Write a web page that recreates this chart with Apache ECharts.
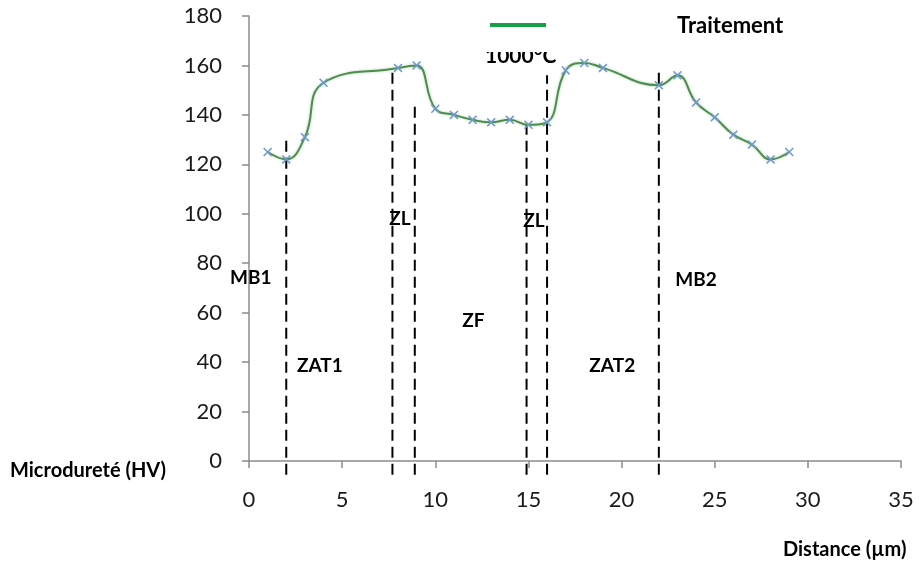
<!DOCTYPE html>
<html><head><meta charset="utf-8">
<script src="https://cdn.jsdelivr.net/npm/echarts@6/dist/echarts.min.js"></script>
<style>html,body{margin:0;padding:0;background:#fff}#c{width:919px;height:573px}</style>
</head><body><div id="c"></div>
<script>
// Data
var distance = [1, 2, 3, 4, 8, 9, 10, 11, 12, 13, 14, 15, 16, 17, 18, 19, 22, 23, 24, 25, 26, 27, 28, 29];
var hardness = [125, 122, 131, 153, 159, 160, 142.5, 140, 138, 137, 138, 136, 137, 158, 161, 159, 152, 156, 145, 139, 132, 128, 122, 125];
var xTicks = [0, 5, 10, 15, 20, 25, 30, 35];
var yTicks = [0, 20, 40, 60, 80, 100, 120, 140, 160, 180];
// zone boundaries (x) and the height each dashed line reaches
var boundaryX = [2, 7.7, 8.9, 14.9, 16, 22];
var boundaryTop = [129.5, 159, 143.5, 136, 156, 158];
var boundaryBottom = -5.6;
// zone labels and where they sit (data coords)
var zoneNames = ['MB1', 'ZAT1', 'ZL', 'ZF', 'ZL', 'ZAT2', 'MB2'];
var zoneX = [0.1, 3.8, 8.1, 12.05, 15.3, 19.5, 24.0];
var zoneY = [74, 38.3, 98, 56.5, 97, 38.3, 73.4];

var chart = echarts.init(document.getElementById('c'));
var xPath = 'path://M0,1.2 L1.2,0 L5,3.8 L8.8,0 L10,1.2 L6.2,5 L10,8.8 L8.8,10 L5,6.2 L1.2,10 L0,8.8 L3.8,5 Z';
var font = 'Lato, "Open Sans", sans-serif';

var series = [{
  type: 'line',
  data: distance.map(function (d, i) { return [d, hardness[i]]; }),
  smooth: 0.45,
  symbol: xPath,
  symbolSize: 9,
  itemStyle: { color: '#6f98cf' },
  lineStyle: { color: '#4d8e4d', width: 2, shadowColor: 'rgba(90,150,90,0.45)', shadowBlur: 3 },
  z: 5
}];
boundaryX.forEach(function (x, i) {
  series.push({
    type: 'line',
    data: [[x, boundaryBottom], [x, boundaryTop[i]]],
    symbol: 'none',
    clip: false,
    silent: true,
    lineStyle: { color: '#000', width: 2, type: [11, 6] },
    z: 3
  });
});
series.push({
  type: 'scatter',
  data: zoneNames.map(function (n, i) { return { value: [zoneX[i], zoneY[i]], name: n }; }),
  symbolSize: 0,
  silent: true,
  z: 6,
  itemStyle: { opacity: 1 },
  label: {
    show: true, position: 'inside', formatter: '{b}',
    color: '#000', fontWeight: 'bold', fontSize: 19, fontFamily: font,
    textBorderWidth: 0
  }
});

chart.setOption({
  animation: false,
  backgroundColor: '#fff',
  grid: { left: 249, right: 18, top: 16, bottom: 112 },
  xAxis: {
    type: 'value', min: 0, max: 35, interval: 5,
    axisLine: { show: true, lineStyle: { color: '#8c8c8c', width: 1.5 } },
    axisTick: { show: true, length: 7, lineStyle: { color: '#8c8c8c', width: 1.5 } },
    axisLabel: { margin: 28, color: '#1a1a1a', fontSize: 22, fontFamily: font },
    splitLine: { show: false }
  },
  yAxis: {
    type: 'value', min: 0, max: 180, interval: 20,
    axisLine: { show: true, lineStyle: { color: '#8c8c8c', width: 1.5 } },
    axisTick: { show: true, length: 7, lineStyle: { color: '#8c8c8c', width: 1.5 } },
    axisLabel: { margin: 27, color: '#1a1a1a', fontSize: 22, fontFamily: font },
    splitLine: { show: false }
  },
  series: series,
  graphic: [
    { type: 'line', shape: { x1: 490, y1: 25, x2: 546, y2: 25 }, style: { stroke: '#17a04a', lineWidth: 4 } },
    { type: 'text', left: 677, top: 15, style: { text: 'Traitement', fontSize: 22, fontWeight: 'bold', fontFamily: font, fill: '#000' } },
    { type: 'group', left: 483, top: 40, children: [
      { type: 'text', x: 0, y: 6, style: { text: '1000°C', fontSize: 21, fontWeight: 'bold', fontFamily: font, fill: '#000' } },
      { type: 'rect', shape: { x: -2, y: 0, width: 85, height: 12 }, style: { fill: '#fff' } }
    ] },
    { type: 'text', left: 10, top: 461, style: { text: 'Microdureté (HV)', fontSize: 20, fontWeight: 'bold', fontFamily: font, fill: '#000' } },
    { type: 'text', left: 783, top: 540, style: { text: 'Distance (µm)', fontSize: 20, fontWeight: 'bold', fontFamily: font, fill: '#000' } }
  ]
});
</script></body></html>
